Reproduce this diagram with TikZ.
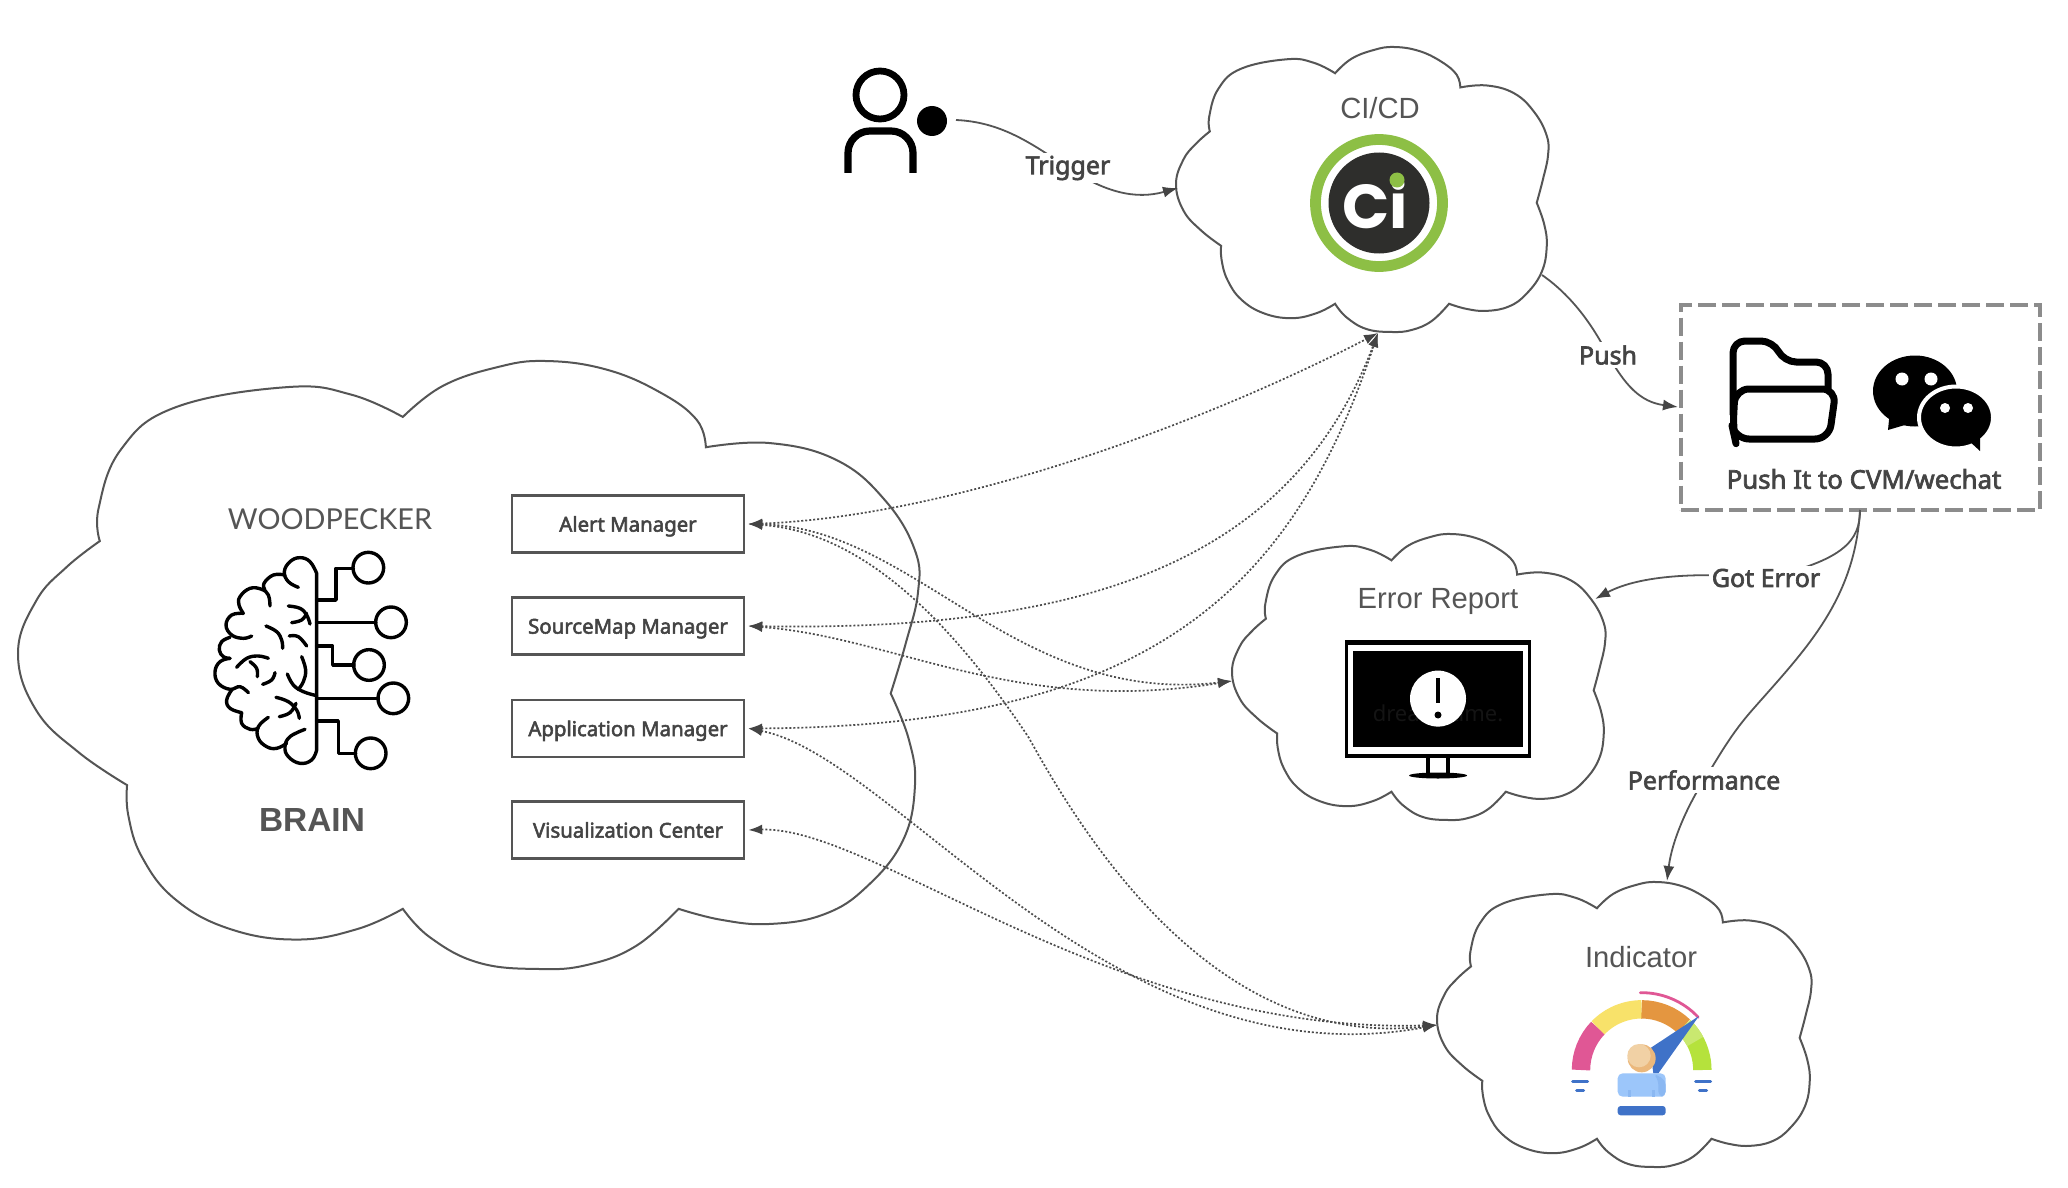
\documentclass[tikz,border=0pt]{standalone}
\usepackage{fontspec}
\usetikzlibrary{arrows.meta}
\setmainfont{Liberation Sans}
\newfontfamily\labfont[FakeBold=2.6]{Noto Sans}
\newfontfamily\markfont{Noto Sans}
\newfontfamily\handfont{Lato}
\newfontfamily\logofont{Poppins}
\definecolor{inkc}{HTML}{555555}
\definecolor{labc}{HTML}{444444}
\definecolor{gblue}{HTML}{3F72C8}
\definecolor{lblue}{HTML}{9CC6FA}
\definecolor{mblue}{HTML}{8BB8F2}
\definecolor{ciGreen}{HTML}{8DBF45}
\definecolor{ciDark}{HTML}{2E2E2C}
\tikzset{
  cloudline/.style={draw=inkc,line width=1pt,line join=miter},
  boxnode/.style={draw=inkc,line width=1.2pt,minimum width=232\cloudu,minimum height=57\cloudu,inner sep=0pt,text height=9pt,text depth=1.4pt,font=\labfont\fontsize{10.2}{12}\selectfont,text=labc},
  edgelab/.style={fill=white,inner sep=1.5pt,font=\labfont\fontsize{12.5}{14}\selectfont,text=labc},
  titlelab/.style={inner sep=0pt,font=\fontsize{14.6}{17}\selectfont,text=inkc},
  solidedge/.style={draw=inkc,line width=0.9pt,-{Latex[length=7.5pt,width=5.5pt,color=labc]}},
  dotedge/.style={draw=black!70,line width=0.85pt,dash pattern=on 1pt off 1pt,{Latex[length=7pt,width=5pt,color=labc]}-{Latex[length=7pt,width=5pt,color=labc]}},
  brainline/.style={line width=1.7pt,line cap=round,line join=round,draw=black},
  smoothed/.style={smooth,tension=0.7},
}
\newcommand{\cloudu}{*0.5pt}
\newcommand{\mycloud}[4]{%
  \begin{scope}[shift={(#1,#2)},xscale=#3/1485,yscale=#4/1445,shift={(-30,-50)}]
  \draw[cloudline] plot[smoothed] coordinates {(165,478) (163,400) (200,260) (290,160) (475,112) (580,130) (665,183)}
   -- plot[smoothed] coordinates {(665,183) (730,110) (820,65) (900,50) (1000,70) (1090,125) (1150,190) (1165,255)}
   -- plot[smoothed] coordinates {(1165,255) (1270,245) (1380,285) (1460,380) (1510,500) (1515,600) (1495,720) (1470,840)}
   -- plot[smoothed] coordinates {(1470,840) (1500,950) (1510,1060) (1490,1190) (1430,1300) (1360,1365) (1270,1388) (1190,1378) (1120,1352)}
   -- plot[smoothed] coordinates {(1120,1352) (1050,1440) (970,1485) (890,1495) (790,1480) (710,1420) (665,1352)}
   -- plot[smoothed] coordinates {(665,1352) (590,1400) (490,1425) (380,1400) (290,1330) (235,1230) (212,1130) (210,1058)}
   -- plot[smoothed] coordinates {(210,1058) (130,980) (60,880) (30,745) (60,620) (110,540) (165,478)} -- cycle;
  \end{scope}}
\begin{document}
\begin{tikzpicture}[x=0.5pt,y=-0.5pt]
\useasboundingbox[fill=white] (0,0) rectangle (2068,1188);

% clouds
\mycloud{18}{361}{900}{608}
\mycloud{1176}{47}{372}{285}
\mycloud{1232}{534}{373}{286}
\mycloud{1437}{882}{374}{285}

% titles
\node[inner sep=0pt,text=inkc,font=\handfont\fontsize{14.4}{18}\selectfont] (wood) at (330,519) {WOODPECKER};
\node[inner sep=0pt,text=inkc,font=\bfseries\fontsize{16.7}{20}\selectfont] (brainlab) at (312,820) {BRAIN};
\node[titlelab] (citxt) at (1380,108) {CI/CD};
\node[titlelab] (errtxt) at (1438,601) {Error Report};
\node[titlelab] (indtxt) at (1641,957) {Indicator};

% manager boxes
\node[boxnode] (alert) at (628,524) {Alert Manager};
\node[boxnode] (source) at (628,626) {SourceMap Manager};
\node[boxnode] (app) at (628,728.5) {Application Manager};
\node[boxnode] (viz) at (628,830) {Visualization Center};

% dashed box
\node[draw=black!45,line width=2pt,dash pattern=on 9pt off 3pt,minimum width=359\cloudu,minimum height=205\cloudu,inner sep=0pt] (pushbox) at (1860.5,407) {};
\node[edgelab,fill=none,inner sep=0pt,font=\labfont\fontsize{12.9}{15}\selectfont] (pushtxt) at (1864,479) {Push It to CVM/wechat};

% end points on the clouds
\coordinate (userend) at (956,120);
\coordinate (cicdW) at (1178,188);
\coordinate (cicdSE) at (1542,275);
\coordinate (cicdS) at (1378,333);
\coordinate (pushW) at (1678,407);
\coordinate (pushS) at (1860,510);
\coordinate (errNE) at (1595,599);
\coordinate (errW) at (1232,681);
\coordinate (indN) at (1667,881);
\coordinate (indW) at (1437,1025);
\coordinate (aE) at ([xshift=3\cloudu]alert.east);
\coordinate (sE) at ([xshift=3\cloudu]source.east);
\coordinate (pE) at ([xshift=3\cloudu]app.east);
\coordinate (vE) at ([xshift=3\cloudu]viz.east);

% dotted connectors
\draw[dotedge] (aE) .. controls (945,517) and (1194,428) .. (cicdS);
\draw[dotedge] (sE) .. controls (1095,632) and (1293,557) .. (cicdS);
\draw[dotedge] (pE) .. controls (1154,726) and (1293,587) .. (cicdS);
\draw[dotedge] (aE) .. controls (915,527) and (1015,706) .. (errW);
\draw[dotedge] (sE) .. controls (895,637) and (1015,716) .. (errW);
\draw[dotedge] (aE) .. controls (866,532) and (955,627) .. (1029,738) .. controls (1094,856) and (1224,1050) .. (indW);
\draw[dotedge] (pE) .. controls (895,756) and (1114,1085) .. (indW);
\draw[dotedge] (vE) .. controls (875,826) and (1114,1035) .. (indW);

% solid connectors
\draw[solidedge] (userend) .. controls (1000,122) and (1030,142) .. (1068,168) node[edgelab] (trigger) {Trigger} .. controls (1105,192) and (1135,200) .. (cicdW);
\draw[solidedge] (cicdSE) .. controls (1575,298) and (1595,330) .. (1608,355) node[edgelab] (push) {Push} .. controls (1625,385) and (1640,402) .. (pushW);
\draw[solidedge] (pushS) .. controls (1860,540) and (1845,560) .. (1766,578) node[edgelab] (goterr) {Got Error} .. controls (1700,572) and (1640,575) .. (errNE);
\draw[solidedge] (pushS) .. controls (1855,600) and (1805,650) .. (1754,708) .. controls (1730,735) and (1720,755) .. (1704,780) node[edgelab] (perf) {Performance} .. controls (1688,805) and (1672,840) .. (indN);

% brain icon
\begin{scope}[shift={(190,530)},scale=1/3]
\draw[brainline] plot[smoothed] coordinates {(325,172) (295,155) (283,125) (300,95) (330,83) (360,95) (380,130)} -- (380,660) -- plot[smoothed] coordinates {(380,660) (365,690) (330,700) (295,680) (285,650) (300,620) (345,598)};
\draw[brainline] plot[smoothed] coordinates {(285,135) (250,135) (222,160) (225,180)};
\draw[brainline] plot[smoothed] coordinates {(240,228) (235,195) (215,178) (180,175) (150,200) (147,225) (160,250)};
\draw[brainline] plot[smoothed] coordinates {(160,250) (125,255) (108,285) (125,315) (160,325) (185,318)};
\draw[brainline] plot[smoothed] coordinates {(120,322) (95,335) (88,360) (100,380) (120,385)};
\draw[brainline] plot[smoothed] coordinates {(120,385) (90,395) (75,425) (85,460) (120,478) (150,470) (175,488)};
\draw[brainline] plot[smoothed] coordinates {(125,480) (110,510) (120,535) (155,548)};
\draw[brainline] plot[smoothed] coordinates {(155,548) (155,580) (180,598) (205,595)};
\draw[brainline] plot[smoothed] coordinates {(235,562) (205,590) (205,625) (230,650) (260,655) (290,640)};
\draw[brainline] plot[smoothed] coordinates {(295,228) (330,235) (350,255) (360,282)};
\draw[brainline] plot[smoothed] coordinates {(305,278) (335,270) (350,250)};
\draw[brainline] plot[smoothed] coordinates {(228,288) (260,305) (275,330) (278,355)};
\draw[brainline] plot[smoothed] coordinates {(298,318) (325,320) (350,348)};
\draw[brainline] plot[smoothed] coordinates {(335,380) (347,420) (340,455) (325,478)};
\draw[brainline] plot[smoothed] coordinates {(292,432) (310,465) (340,485) (380,497)};
\draw[brainline] plot[smoothed] coordinates {(140,412) (170,385) (205,378) (235,385)};
\draw[brainline] plot[smoothed] coordinates {(180,395) (200,415) (202,440)};
\draw[brainline] plot[smoothed] coordinates {(255,428) (245,450) (218,463)};
\draw[brainline] plot[smoothed] coordinates {(258,502) (295,515) (320,540) (328,565)};
\draw[brainline] plot[smoothed] coordinates {(268,560) (300,548) (318,520)};
\draw[brainline] (380,210) -- (438,210) -- (438,115) -- (490,115);
\draw[brainline] (535,113) circle (46);
\draw[brainline] (380,277) -- (558,277);
\draw[brainline] (603,277) circle (46);
\draw[brainline] (380,348) -- (428,348) -- (428,405) -- (492,405);
\draw[brainline] (537,405) circle (46);
\draw[brainline] (380,505) -- (565,505);
\draw[brainline] (610,505) circle (46);
\draw[brainline] (380,573) -- (445,573) -- (445,670) -- (497,670);
\draw[brainline] (542,670) circle (46);
\end{scope}

% user icon
\draw[line width=3.4pt] (880,95) circle (24);
\fill (932,121) circle (15);
\draw[line width=3.6pt,rounded corners=11pt] (848,173) -- (848,131) -- (913,131) -- (913,173);

% CI logo
\draw[ciGreen,line width=5.4pt] (1379,203) circle (63.5);
\fill[ciDark] (1379,203) circle (50.5);
\node[inner sep=0pt,text=white,font=\logofont\bfseries\fontsize{31}{36}\selectfont] (cilogo) at (1375,204) {Ci};
\fill[ciGreen] (1397,180) circle (7.5);

% folder icon
\draw[line width=3.5pt,line join=round,rounded corners=6pt] (1733,415) -- (1733,341) -- (1773,341) -- (1784,362) -- (1828,362) -- (1828,392);
\draw[line width=3.5pt,line join=round,rounded corners=7pt] (1733,430) -- (1735,389) -- (1836,389) -- (1829,439) -- (1735,439) -- cycle;

% wechat icon
\fill (1915,391) circle[x radius=42,y radius=35.5];
\fill (1890,410) -- (1888,430) -- (1915,422) -- cycle;
\fill[white] (1902,379) circle (6.5);
\fill[white] (1931,379) circle (6.5);
\draw[white,line width=2pt,fill=black] (1956,417.5) circle[x radius=37,y radius=31];
\fill (1968,440) -- (1980,451) -- (1980,430) -- cycle;
\fill[white] (1945,408) circle (5);
\fill[white] (1968,408) circle (5);

% monitor
\fill (1345,640) rectangle (1531,758);
\fill[white] (1348,645) rectangle (1528,754);
\fill (1353,651) rectangle (1523,747);
\node[inner sep=0pt,text=black!92,font=\markfont\bfseries\fontsize{11}{13}\selectfont] (dream) at (1438,713) {dreamstime.};
\fill[white] (1438,698.6) circle (28);
\draw[line width=2.2pt] (1438,678) -- (1438,703);
\fill (1438,715) circle (3.5);
\fill (1426,758) rectangle (1430,773);
\fill (1446,758) rectangle (1450,773);
\fill (1438,775.5) circle[x radius=29,y radius=3];

% gauge
\begin{scope}[shift={(1400,860)},scale=1/3]
\draw[line width=9.2pt,color={rgb,255:red,224;green,87;blue,149}] (725,630)++(180:182) arc (180:224:182);
\draw[line width=9.2pt,color={rgb,255:red,248;green,226;blue,106}] (725,630)++(224:182) arc (224:270:182);
\draw[line width=9.2pt,color={rgb,255:red,228;green,150;blue,64}] (725,630)++(270:182) arc (270:314:182);
\draw[line width=9.2pt,color={rgb,255:red,181;green,226;blue,60}] (725,630)++(314:182) arc (314:360:182);
\draw[line width=9.2pt,color={rgb,255:red,201;green,232;blue,112}] (725,630)++(314:182) arc (314:332:182);
\draw[line width=1.4pt,line cap=round,color={rgb,255:red,224;green,87;blue,149}] (725,630)++(269:232) arc (269:317:232);
\fill[gblue] (897,468) -- (750,565) -- (760,640) -- (775,640) -- cycle;
\fill[lblue,rounded corners=2.5pt] (653,640) rectangle (797,710);
\fill[mblue,rounded corners=2.5pt] (760,640) -- (797,660) -- (797,710) -- (775,710) -- (775,660) -- cycle;
\fill[mblue] (683,690) rectangle (694,710);
\fill[mblue] (755,690) rectangle (766,710);
\fill[color={rgb,255:red,235;green,184;blue,124}] (725,595) circle (42);
\fill[color={rgb,255:red,241;green,209;blue,165}] (717,587) circle (35);
\draw[line width=1.5pt,line cap=round,gblue] (518,665) -- (563,665);
\draw[line width=1.5pt,line cap=round,gblue] (530,692) -- (551,692);
\draw[line width=1.5pt,line cap=round,gblue] (887,665) -- (932,665);
\draw[line width=1.5pt,line cap=round,gblue] (898,692) -- (920,692);
\fill[gblue,rounded corners=1.5pt] (653,738) rectangle (797,766);
\end{scope}
\end{tikzpicture}
\end{document}
